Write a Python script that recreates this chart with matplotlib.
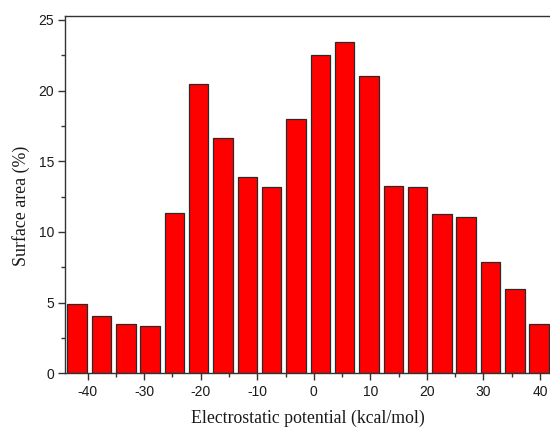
import matplotlib
matplotlib.use("Agg")
import matplotlib.pyplot as plt
from matplotlib.ticker import MultipleLocator

plt.rcParams["axes.unicode_minus"] = False

# Bin centres of the electrostatic potential histogram (kcal/mol)
bin_centers = [-41.85, -37.55, -33.25, -28.95, -24.65, -20.35, -16.05, -11.75,
               -7.45, -3.15, 1.15, 5.45, 9.75, 14.05, 18.35, 22.65, 26.95,
               31.25, 35.55, 39.85]
# Surface area (%) per bin
surface_area = [4.91, 4.08, 3.47, 3.35, 11.37, 20.45, 16.63, 13.88, 13.15,
                18.02, 22.55, 23.42, 21.04, 13.28, 13.16, 11.27, 11.08, 7.90,
                5.97, 3.51]
x_ticks = [-40, -30, -20, -10, 0, 10, 20, 30, 40]
y_ticks = [0, 5, 10, 15, 20, 25]

fig = plt.figure(figsize=(5.5, 4.28), dpi=100)
ax = fig.add_axes([0.1182, 0.1278, 0.8842, 0.8355])

ax.bar(bin_centers, surface_area, width=3.44, color="#ff0000",
       edgecolor="#2a2a2a", linewidth=0.9, zorder=2)

ax.set_xlim(-44, 42)
ax.set_ylim(0, 25.3)
ax.set_xticks(x_ticks)
ax.set_yticks(y_ticks)
ax.xaxis.set_minor_locator(MultipleLocator(5))
ax.yaxis.set_minor_locator(MultipleLocator(2.5))

for s in ["left", "bottom", "top"]:
    ax.spines[s].set_linewidth(1.0)
    ax.spines[s].set_color("#333333")
ax.spines["right"].set_visible(False)

ax.tick_params(which="major", direction="out", length=4.8, width=1.0,
               color="#333333")
ax.tick_params(which="minor", direction="out", length=2.8, width=1.0,
               color="#333333")
ax.tick_params(axis="x", which="major", pad=3.8)
ax.tick_params(axis="y", which="major", pad=3.0)
for lab in ax.get_xticklabels() + ax.get_yticklabels():
    lab.set_fontfamily("Liberation Sans")
    lab.set_fontsize(10.0)
    lab.set_color("#1a1a1a")

ax.set_xlabel("Electrostatic potential (kcal/mol)", family="Liberation Serif",
              fontsize=12.8, va="center", color="#1a1a1a")
ax.set_ylabel("Surface area (%)", family="Liberation Serif",
              fontsize=12.9, va="center", color="#1a1a1a")
ax.xaxis.set_label_coords(0.5, -0.126)
ax.yaxis.set_label_coords(-0.0905, 0.468)

fig.savefig("out.png", dpi=100)
